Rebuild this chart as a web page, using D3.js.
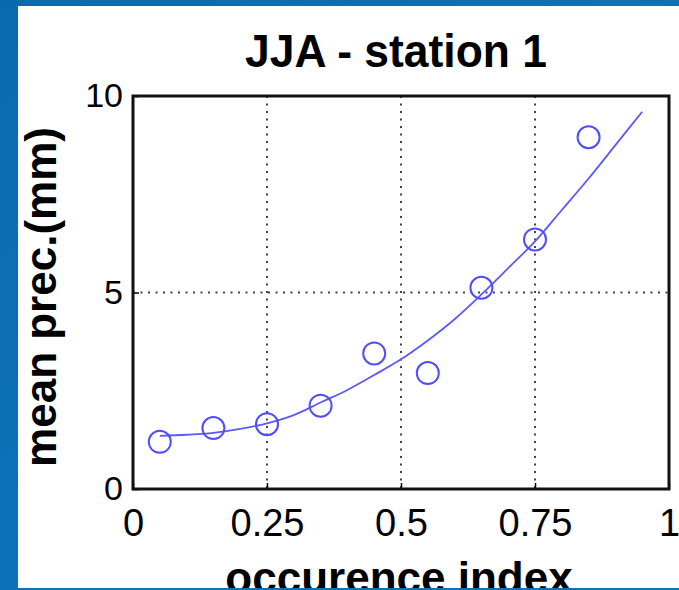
<!DOCTYPE html>
<html>
<head>
<meta charset="utf-8">
<script src="https://cdn.jsdelivr.net/npm/d3@7"></script>
<style>
  html, body { margin: 0; padding: 0; background: #fff; }
  svg { display: block; }
  text { font-family: "Liberation Sans", Arial, sans-serif; }
</style>
</head>
<body>
<div id="draw"></div>
<script>
// observed points (occurence index vs mean precipitation)
var obsX = [0.05, 0.15, 0.25, 0.35, 0.45, 0.55, 0.65, 0.75, 0.85];
var obsY = [1.2, 1.55, 1.65, 2.12, 3.45, 2.95, 5.12, 6.35, 8.95];

// fitted curve
var fitX = [0.05, 0.1, 0.15, 0.2, 0.25, 0.3, 0.35, 0.4, 0.45, 0.5, 0.55, 0.6, 0.65, 0.7, 0.75, 0.8, 0.85, 0.9, 0.95];
var fitY = [1.35, 1.38, 1.43, 1.53, 1.67, 1.88, 2.2, 2.52, 2.9, 3.3, 3.78, 4.32, 4.95, 5.62, 6.3, 7.1, 7.9, 8.75, 9.6];

var xTicks = [0, 0.25, 0.5, 0.75, 1];
var xTickLabels = ["0", "0.25", "0.5", "0.75", "1"];
var yTicks = [0, 5, 10];

var W = 679, H = 590;
var plotL = 133, plotR = 669, plotT = 96, plotB = 489;

var svg = d3.select('#draw').append('svg').attr('width', W).attr('height', H);

// slide background
var defs = svg.append('defs');
var grad = defs.append('linearGradient').attr('id', 'bg')
    .attr('x1', '0').attr('y1', '0').attr('x2', '1').attr('y2', '1');
grad.append('stop').attr('offset', '0').attr('stop-color', '#0a6aae');
grad.append('stop').attr('offset', '0.5').attr('stop-color', '#0d72b8');
grad.append('stop').attr('offset', '1').attr('stop-color', '#1484c6');
svg.append('rect').attr('width', W).attr('height', H).attr('fill', 'url(#bg)');
svg.append('rect').attr('x', 18).attr('y', 6).attr('width', W - 18).attr('height', 582).attr('fill', '#fff');

var x = d3.scaleLinear().domain([0, 1]).range([plotL, plotR]);
var y = d3.scaleLinear().domain([0, 10]).range([plotB, plotT]);

// grid
var grid = svg.append('g').attr('stroke', '#444').attr('stroke-width', 2)
    .attr('stroke-dasharray', '2,5.5');
grid.selectAll('line.gx').data(xTicks.slice(1, -1)).enter().append('line')
    .attr('x1', function(d){ return x(d); }).attr('x2', function(d){ return x(d); })
    .attr('y1', plotT).attr('y2', plotB);
grid.selectAll('line.gy').data(yTicks.slice(1, -1)).enter().append('line')
    .attr('y1', function(d){ return y(d); }).attr('y2', function(d){ return y(d); })
    .attr('x1', plotL).attr('x2', plotR);

// axes (ticks inside, labels outside)
var xAxis = svg.append('g').attr('transform', 'translate(0,' + plotB + ')')
    .call(d3.axisBottom(x).tickValues(xTicks).tickSizeInner(-6).tickSizeOuter(0).tickPadding(20)
        .tickFormat(function(d, i){ return xTickLabels[i]; }));
var yAxis = svg.append('g').attr('transform', 'translate(' + plotL + ',0)')
    .call(d3.axisLeft(y).tickValues(yTicks).tickSizeInner(-6).tickSizeOuter(0).tickPadding(10));
[xAxis, yAxis].forEach(function(a){
  a.select('.domain').remove();
  a.selectAll('.tick line').attr('stroke', '#000').attr('stroke-width', 1.5);
  a.selectAll('text').attr('fill', '#000').style('font-family', '"Liberation Sans", Arial, sans-serif');
});
xAxis.selectAll('text').style('font-size', '38px');
yAxis.selectAll('text').style('font-size', '34px');

// frame
svg.append('rect').attr('x', plotL).attr('y', plotT).attr('width', plotR - plotL).attr('height', plotB - plotT)
    .attr('fill', 'none').attr('stroke', '#111').attr('stroke-width', 3);

// fitted curve
var fit = fitX.map(function(d, i){ return [d, fitY[i]]; });
svg.append('path').datum(fit)
    .attr('fill', 'none').attr('stroke', '#5a5aff').attr('stroke-width', 1.8)
    .attr('d', d3.line().curve(d3.curveMonotoneX)
        .x(function(d){ return x(d[0]); }).y(function(d){ return y(d[1]); }));

// observed circles
svg.selectAll('circle.obs').data(obsX).enter().append('circle')
    .attr('cx', function(d){ return x(d); })
    .attr('cy', function(d, i){ return y(obsY[i]); })
    .attr('r', 11)
    .attr('fill', 'none').attr('stroke', '#4e4eff').attr('stroke-width', 2);

// titles
svg.append('text').attr('x', 396).attr('y', 67).attr('text-anchor', 'middle')
    .attr('textLength', 302).attr('lengthAdjust', 'spacingAndGlyphs')
    .style('font-size', '47px').style('font-weight', 'bold').text('JJA - station 1');
svg.append('text').attr('x', 399).attr('y', 593).attr('text-anchor', 'middle')
    .style('font-size', '44px').style('font-weight', 'bold').text('occurence index');
svg.append('text').attr('transform', 'translate(56,297) rotate(-90)').attr('text-anchor', 'middle')
    .style('font-size', '44px').style('font-weight', 'bold').text('mean prec.(mm)');

// blue strip under the slide
svg.append('rect').attr('x', 0).attr('y', 588).attr('width', W).attr('height', 2).attr('fill', '#0d72b8');
</script>
</body>
</html>
